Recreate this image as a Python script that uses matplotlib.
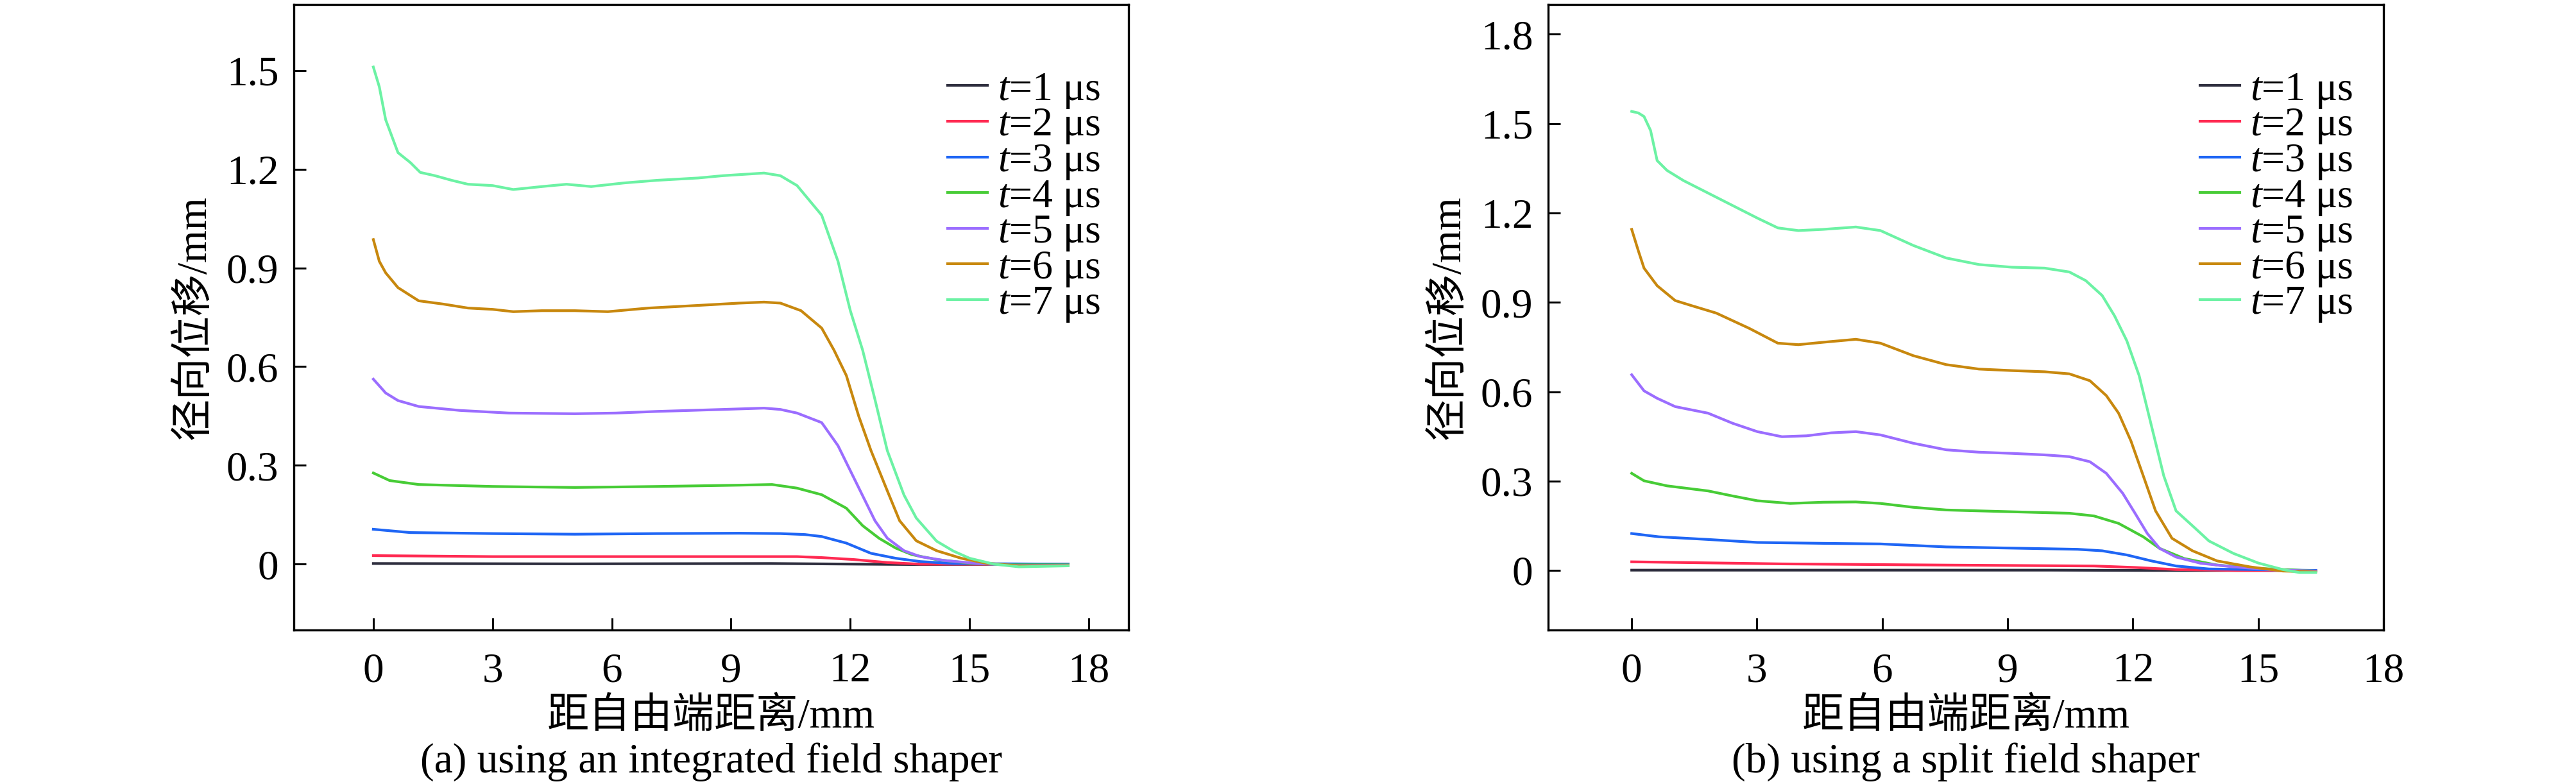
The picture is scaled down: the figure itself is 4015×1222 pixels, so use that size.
import matplotlib
matplotlib.use("Agg")
import matplotlib.pyplot as plt
from matplotlib.ticker import FuncFormatter

plt.rcParams["font.family"] = ["Liberation Serif", "Noto Sans CJK SC"]
plt.rcParams["mathtext.fontset"] = "custom"
plt.rcParams["mathtext.rm"] = "Liberation Serif"
plt.rcParams["mathtext.it"] = "Liberation Serif:italic"

# ---- data, (a) integrated field shaper ----
a_x7 = [0, 0.15, 0.31, 0.62, 0.93, 1.18, 1.55, 1.97, 2.38, 3.0, 3.52, 4.24, 4.86, 5.48, 6.31,
        7.14, 8.17, 8.79, 9.83, 10.24, 10.66, 11.28, 11.69, 12.0, 12.31, 12.62, 12.93, 13.35,
        13.66, 14.17, 14.59, 15.0, 15.62, 16.24, 17.48]
a_y7 = [1.51, 1.45, 1.35, 1.25, 1.22, 1.19, 1.18, 1.166, 1.154, 1.15, 1.138, 1.147, 1.154, 1.147,
        1.158, 1.166, 1.173, 1.18, 1.188, 1.18, 1.15, 1.06, 0.92, 0.77, 0.65, 0.50, 0.345, 0.21,
        0.14, 0.07, 0.04, 0.018, 0.0, -0.008, -0.005]
a_x6 = [0, 0.15, 0.31, 0.62, 1.14, 1.76, 2.38, 3.0, 3.52, 4.24, 5.07, 5.9, 6.93, 8.17, 9.21,
        9.83, 10.24, 10.76, 11.28, 11.59, 11.9, 12.21, 12.52, 12.93, 13.24, 13.66, 14.17, 14.79,
        15.41, 16.24, 17.48]
a_y6 = [0.986, 0.92, 0.885, 0.84, 0.80, 0.79, 0.778, 0.774, 0.767, 0.77, 0.77, 0.767, 0.778,
        0.786, 0.793, 0.796, 0.793, 0.77, 0.717, 0.65, 0.573, 0.45, 0.345, 0.223, 0.132, 0.071,
        0.041, 0.018, 0.003, -0.005, -0.004]
a_x5 = [0, 0.31, 0.62, 1.14, 2.17, 3.41, 5.07, 6.1, 7.14, 8.79, 9.83, 10.24, 10.66, 11.28, 11.69,
        12.0, 12.31, 12.62, 12.93, 13.35, 13.76, 14.38, 15.21, 16.24, 17.48]
a_y5 = [0.562, 0.52, 0.497, 0.479, 0.467, 0.459, 0.457, 0.459, 0.464, 0.47, 0.474, 0.47, 0.459,
        0.43, 0.36, 0.284, 0.208, 0.132, 0.079, 0.041, 0.023, 0.011, 0.002, -0.004, -0.003]
a_x4 = [0, 0.41, 1.14, 3.0, 5.07, 7.14, 9.21, 10.03, 10.66, 11.28, 11.9, 12.31, 12.72, 13.14,
        13.55, 14.17, 15.0, 16.03, 17.48]
a_y4 = [0.277, 0.254, 0.242, 0.236, 0.233, 0.236, 0.24, 0.242, 0.231, 0.211, 0.17, 0.117, 0.079,
        0.049, 0.029, 0.014, 0.003, -0.002, -0.002]
a_x3 = [0, 0.93, 3.0, 5.07, 7.14, 9.21, 10.24, 10.86, 11.28, 11.9, 12.52, 13.14, 13.76, 14.59,
        17.48]
a_y3 = [0.106, 0.096, 0.093, 0.091, 0.093, 0.094, 0.093, 0.09, 0.084, 0.064, 0.033, 0.018,
        0.008, 0.002, 0.0]
a_x2 = [0, 3.0, 9.21, 10.66, 11.28, 12.1, 12.93, 13.76, 17.48]
a_y2 = [0.026, 0.023, 0.023, 0.023, 0.02, 0.014, 0.005, 0.0, 0.0]
a_x1 = [0, 5.0, 10.0, 12.31, 13.5, 17.48]
a_y1 = [0.002, 0.001, 0.002, 0.0, -0.001, 0.0]

# ---- (b) split field shaper ----
b_x7 = [0, 0.157, 0.295, 0.452, 0.609, 0.845, 1.238, 1.828, 2.418, 3.008, 3.499, 3.99, 4.58,
        5.367, 5.956, 6.743, 7.529, 8.315, 9.102, 9.888, 10.478, 10.871, 11.264, 11.559, 11.854,
        12.149, 12.443, 12.738, 13.033, 13.426, 13.82, 14.41, 15.0, 15.589, 15.982, 16.375]
b_y7 = [1.541, 1.536, 1.524, 1.477, 1.376, 1.343, 1.309, 1.267, 1.225, 1.183, 1.15, 1.141,
        1.145, 1.153, 1.141, 1.091, 1.049, 1.027, 1.018, 1.015, 1.002, 0.973, 0.923, 0.855,
        0.771, 0.654, 0.486, 0.318, 0.2, 0.15, 0.099, 0.057, 0.025, 0.003, -0.007, -0.007]
b_x6 = [0, 0.157, 0.295, 0.609, 1.042, 1.435, 2.025, 2.811, 3.499, 3.99, 4.58, 5.367, 5.956,
        6.743, 7.529, 8.315, 9.102, 9.888, 10.478, 10.97, 11.363, 11.657, 11.952, 12.247,
        12.542, 12.935, 13.426, 14.016, 14.803, 15.589, 16.375]
b_y6 = [1.145, 1.074, 1.015, 0.956, 0.906, 0.889, 0.864, 0.813, 0.763, 0.758, 0.766, 0.776,
        0.763, 0.721, 0.691, 0.676, 0.671, 0.667, 0.66, 0.637, 0.587, 0.528, 0.435, 0.318, 0.2,
        0.108, 0.066, 0.032, 0.012, -0.002, -0.005]
b_x5 = [0, 0.295, 0.609, 1.042, 1.828, 2.418, 3.008, 3.597, 4.187, 4.777, 5.367, 5.956, 6.743,
        7.529, 8.315, 9.102, 9.888, 10.478, 10.97, 11.363, 11.756, 12.051, 12.345, 12.64, 13.033,
        13.623, 14.41, 15.392, 16.375]
b_y5 = [0.657, 0.603, 0.578, 0.55, 0.528, 0.494, 0.466, 0.449, 0.452, 0.462, 0.466, 0.455, 0.427,
        0.405, 0.397, 0.393, 0.388, 0.382, 0.365, 0.326, 0.259, 0.192, 0.124, 0.074, 0.045,
        0.024, 0.012, 0.002, -0.002]
b_x4 = [0, 0.295, 0.845, 1.828, 2.418, 3.008, 3.794, 4.58, 5.367, 5.956, 6.743, 7.529, 9.102,
        10.478, 11.067, 11.657, 12.247, 12.64, 13.229, 14.016, 15.0, 16.375]
b_y4 = [0.326, 0.301, 0.284, 0.267, 0.25, 0.234, 0.225, 0.229, 0.23, 0.225, 0.212, 0.203, 0.197,
        0.192, 0.183, 0.158, 0.113, 0.074, 0.04, 0.018, 0.007, -0.002]
b_x3 = [0, 0.649, 1.828, 3.008, 4.58, 5.956, 7.529, 9.495, 10.675, 11.264, 11.854, 12.443,
        13.033, 13.82, 16.375]
b_y3 = [0.124, 0.113, 0.104, 0.094, 0.091, 0.089, 0.079, 0.074, 0.071, 0.066, 0.052, 0.032,
        0.015, 0.005, 0.0]
b_x2 = [0, 3.597, 7.529, 11.067, 12.051, 13.033, 14.5, 16.375]
b_y2 = [0.029, 0.022, 0.018, 0.015, 0.01, 0.003, 0.0, 0.0]
b_x1 = [0, 5.0, 10.0, 12.5, 14.0, 16.375]
b_y1 = [0.001, 0.001, 0.001, 0.0, 0.0, 0.0]

labels = [f"$t$={i} μs" for i in range(1, 8)]
colors = ["#2e2e3e", "#ff2a52", "#1f66f5", "#47cc36", "#9b6dff", "#c8880e", "#6cf2a4"]

panel_a = [(a_x1, a_y1), (a_x2, a_y2), (a_x3, a_y3), (a_x4, a_y4),
           (a_x5, a_y5), (a_x6, a_y6), (a_x7, a_y7)]
panel_b = [(b_x1, b_y1), (b_x2, b_y2), (b_x3, b_y3), (b_x4, b_y4),
           (b_x5, b_y5), (b_x6, b_y6), (b_x7, b_y7)]

a_yticks = [0, 0.3, 0.6, 0.9, 1.2, 1.5]
b_yticks = [0, 0.3, 0.6, 0.9, 1.2, 1.5, 1.8]
xticks = [0, 3, 6, 9, 12, 15, 18]

fig = plt.figure(figsize=(40.16, 12.22), dpi=100)
ax_a = fig.add_axes([458 / 4016, 1 - 982 / 1222, 1301 / 4016, 975 / 1222])
ax_b = fig.add_axes([2413 / 4016, 1 - 982 / 1222, 1302 / 4016, 975 / 1222])

fmt = FuncFormatter(lambda v, p: "0" if abs(v) < 1e-9 else f"{v:.1f}")

setups = [
    (ax_a, panel_a, (-2, 19), (-0.2, 1.7), a_yticks, "(a) using an integrated field shaper",
     (1477 - 458) / 1301),
    (ax_b, panel_b, (-2, 18), (-0.2, 1.9), b_yticks, "(b) using a split field shaper",
     (3429 - 2413) / 1302),
]

for ax, series, xl, yl, yt, cap, leg_x in setups:
    for (xs, ys), c, lab in zip(series, colors, labels):
        ax.plot(xs, ys, color=c, lw=3.0, label=lab)
    ax.set_xlim(*xl)
    ax.set_ylim(*yl)
    ax.set_xticks(xticks)
    ax.set_yticks(yt)
    ax.yaxis.set_major_formatter(fmt)
    ax.tick_params(direction="in", length=13.5, width=2.2, labelsize=47)
    ax.tick_params(axis="x", pad=25)
    ax.tick_params(axis="y", pad=17)
    for s in ax.spines.values():
        s.set_linewidth(2.4)
    ax.set_xlabel("距自由端距离/mm", fontsize=47, labelpad=8)
    ax.set_ylabel("径向位移/mm", fontsize=47, labelpad=14)
    ax.legend(loc="upper left", bbox_to_anchor=(leg_x, 1 - (111 - 7) / 975), frameon=False,
              fontsize=46, handlelength=0.97, handletextpad=0.25, labelspacing=-0.08,
              borderpad=0, borderaxespad=0)
    pos = ax.get_position()
    fig.text((pos.x0 + pos.x1) / 2, 1 - 1188 / 1222, cap, fontsize=47, ha="center", va="center")

fig.savefig("out.png", dpi=100)
